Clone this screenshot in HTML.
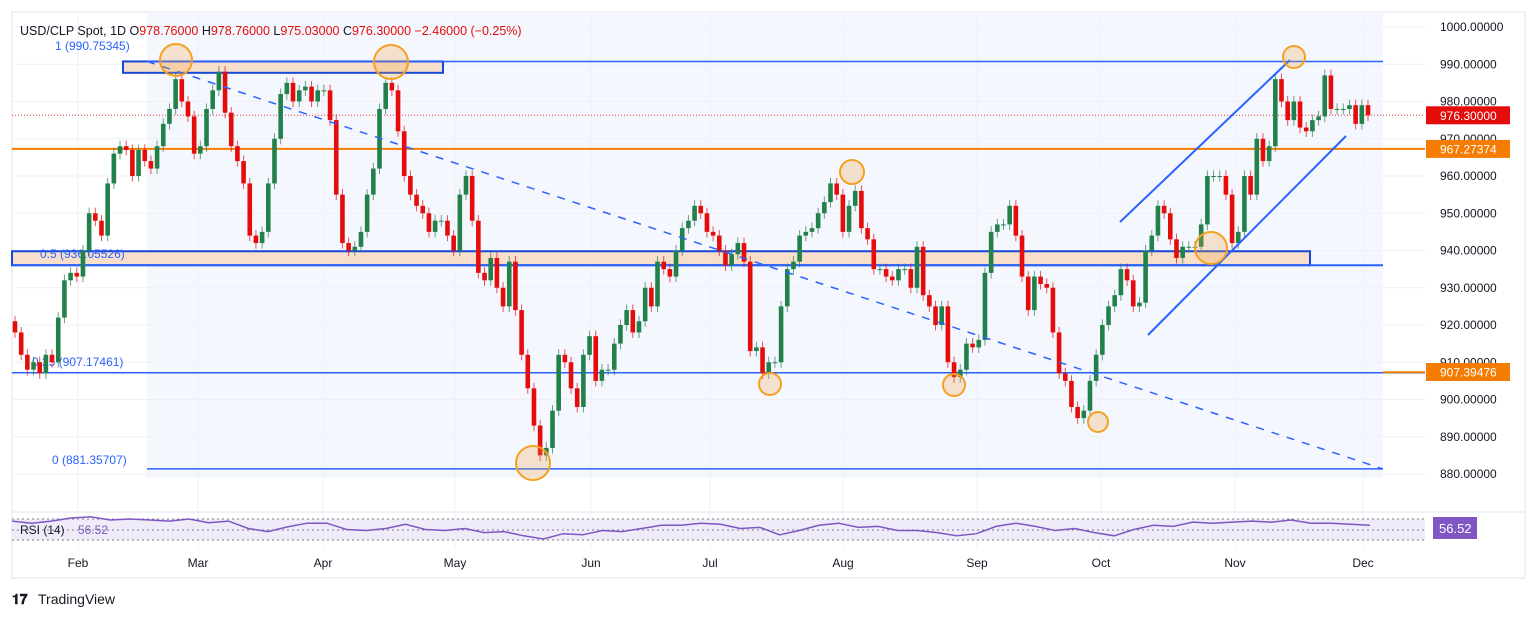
<!DOCTYPE html>
<html><head><meta charset="utf-8"><style>
body{margin:0;background:#fff;width:1536px;height:619px;overflow:hidden;font-family:"Liberation Sans",sans-serif}
svg text{font-family:"Liberation Sans",sans-serif}
</style></head><body>
<svg id="c" width="1536" height="619" xmlns="http://www.w3.org/2000/svg"></svg>
<script>
const closes=[918,912,908,910,907,912,910,922,932,934,933,940,950,948,944,958,966,968,967,960,967,964,962,968,974,978,986,980,976,966,968,978,983,988,977,968,964,958,944,942,945,958,970,982,985,980,983,984,980,983,983,975,955,942,940,941,945,955,962,978,985,983,972,960,955,952,950,945,948,948,944,940,955,960,948,934,932,938,930,925,937,924,912,903,893,885,887,897,
912,910,903,898,912,917,905,908,908,915,920,924,918,921,930,925,937,935,933,940,946,948,952,950,945,944,940,936,939,942,937,913,914,907,910,910,925,935,937,944,945,946,950,953,958,955,945,952,956,946,943,935,935,933,932,935,935,930,
941,928,925,920,925,910,906,908,915,914,916,934,945,947,947,952,944,933,924,933,931,930,918,907,905,898,895,897,905,912,920,925,928,935,932,925,926,940,944,952,950,943,938,941,941,941,947,960,960,960,955,942,945,960,955,970,964,968,986,980,975,980,973,972,975,976,987,978,978,978,979,974,979,976.3];
const priceTicks=[1000,990,980,970,960,950,940,930,920,910,900,890,880];
const months=["Feb","Mar","Apr","May","Jun","Jul","Aug","Sep","Oct","Nov","Dec"];
const monthX=[78,198,323,455,591,710,843,977,1101,1235,1363];
const rsi=[66,62,66,72,74,68,70,68,66,70,63,66,52,46,55,62,62,50,48,52,60,50,48,52,44,46,38,32,42,40,48,46,52,58,58,62,60,52,54,40,48,58,62,54,56,48,48,44,38,42,56,62,56,48,52,44,38,50,58,56,64,62,64,66,64,68,62,62,60,58];
const firstOpen=921;
const S='http://www.w3.org/2000/svg';
const svg=document.getElementById('c');
function y(p){return 27+(1000-p)*3.725;}
function xi(i){return 15+i*(1368-15)/(closes.length-1);}
function ry(v){return 519+(70-v)*21/40;}
function add(tag,attrs,parent,text){const e=document.createElementNS(S,tag);for(const k in attrs)e.setAttribute(k,attrs[k]);if(text!==undefined)e.textContent=text;(parent||svg).appendChild(e);return e;}
// frame
let e;
e=add('rect',{x:12,y:12,width:1513,height:566,fill:'#fff',stroke:'#e0e3eb'});

e=add('rect',{x:147,y:12,width:1236,height:466,fill:'#f5f7fe'});

// grid
priceTicks.forEach(p=>{e=add('line',{x1:12,x2:1425,y1:y(p),y2:y(p),stroke:'#eef0f4'});});
monthX.forEach(x=>{e=add('line',{x1:x,x2:x,y1:12,y2:548,stroke:'#eef0f4'});});
// fib boxes and lines
e=add('rect',{x:12,y:y(939.8),width:1298,height:y(936.05)-y(939.8),fill:'#f8dfcb',stroke:'#1848d8','stroke-width':2});

e=add('line',{x1:12,x2:1383,y1:y(936.05),y2:y(936.05),stroke:'#2962ff','stroke-width':2});

e=add('rect',{x:123,y:y(990.75),width:320,height:y(987.7)-y(990.75),fill:'#f8dfcb',stroke:'#1848d8','stroke-width':2});

e=add('line',{x1:147,x2:1383,y1:y(990.75),y2:y(990.75),stroke:'#2962ff','stroke-width':1.5});

e=add('line',{x1:12,x2:1425,y1:y(907.17),y2:y(907.17),stroke:'#2962ff','stroke-width':1.5});

e=add('line',{x1:1383,x2:1425,y1:y(907.3),y2:y(907.3),stroke:'#f57c00','stroke-width':2});

e=add('line',{x1:147,x2:1383,y1:y(881.36),y2:y(881.36),stroke:'#2962ff','stroke-width':1.5});

e=add('line',{x1:12,x2:1425,y1:y(967.27),y2:y(967.27),stroke:'#f57c00','stroke-width':2});

e=add('line',{x1:12,x2:1425,y1:y(976.3),y2:y(976.3),stroke:'#e53935','stroke-width':1,'stroke-dasharray':'1 2'});

// fib labels
[["1 (990.75345)",55,50],["0.5 (936.05526)",40,258],["0.25 (907.17461)",32,366],["0 (881.35707)",52,464]].forEach(t=>{e=add('text',{x:t[1],y:t[2],fill:'#2962ff','font-size':12},null,t[0]);});
// candles
let prev=firstOpen;
closes.forEach((c,i)=>{const o=prev;prev=c;const x=xi(i);const up=c>=o;const col=up?'#22804a':'#e50c0c';
const hi=Math.max(o,c)+1.5,lo=Math.min(o,c)-1.5;
const g=add('g',{});
add('line',{x1:x,x2:x,y1:y(hi),y2:y(lo),stroke:col,'stroke-width':1,opacity:0.7},g);
const t=y(Math.max(o,c)),b=y(Math.min(o,c));
add('rect',{x:x-2.3,y:t,width:4.6,height:Math.max(1,b-t),fill:col},g);});
// trend lines
e=add('line',{x1:147,y1:y(990.75),x2:1383,y2:y(881.36),stroke:'#2962ff','stroke-width':1.5,'stroke-dasharray':'8 8'});

e=add('line',{x1:1120,y1:222,x2:1290,y2:60,stroke:'#2962ff','stroke-width':2});

e=add('line',{x1:1148,y1:335,x2:1346,y2:136,stroke:'#2962ff','stroke-width':2});

// circles
[[176,60,16],[391,62,17],[533,463,17],[852,172,12],[770,384,11],[954,385,11],[1098,422,10],[1211,248,16],[1294,57,11]].forEach(c=>{e=add('circle',{cx:c[0],cy:c[1],r:c[2],fill:'rgba(245,160,60,0.25)',stroke:'#f5a020','stroke-width':2});});
// price axis
e=add('rect',{x:1426,y:13,width:98,height:564,fill:'#fff'});

priceTicks.forEach(p=>{e=add('text',{x:1440,y:y(p)+4,fill:'#131722','font-size':12},null,p.toFixed(5));});
[[976.3,'#e50c0c','976.30000'],[967.27,'#f57c00','967.27374'],[907.39,'#f57c00','907.39476']].forEach(l=>{e=add('rect',{x:1426,y:y(l[0])-9,width:84,height:18,fill:l[1]});
e=add('text',{x:1440,y:y(l[0])+4.5,fill:'#fff','font-size':12},null,l[2]);});
// RSI pane
e=add('line',{x1:12,x2:1525,y1:512,y2:512,stroke:'#e0e3eb'});

e=add('rect',{x:12,y:519,width:1413,height:21,fill:'#efebf8'});

[519,530,540].forEach(v=>{e=add('line',{x1:12,x2:1425,y1:v,y2:v,stroke:'#787b86','stroke-dasharray':'2 3'});});
const pts=rsi.map((v,i)=>(12+i*(1370-12)/(rsi.length-1)).toFixed(1)+','+ry(v).toFixed(1)).join(' ');
e=add('polyline',{points:pts,fill:'none',stroke:'#7e57c2','stroke-width':1.5});

e=add('text',{x:20,y:534,fill:'#131722','font-size':12},null,'RSI (14)');

e=add('text',{x:78,y:534,fill:'#7e57c2','font-size':12},null,'56.52');

e=add('rect',{x:1433,y:517,width:44,height:22,fill:'#7e57c2'});

e=add('text',{x:1439,y:533,fill:'#fff','font-size':13},null,'56.52');

// time axis
months.forEach((m,i)=>{e=add('text',{x:monthX[i],y:567,fill:'#131722','font-size':12,'text-anchor':'middle'},null,m);});
// header
e=add('text',{x:20,y:35,fill:'#131722','font-size':12.5},null,'');

add('tspan',{},e,'USD/CLP Spot, 1D  O');
add('tspan',{fill:'#e50c0c'},e,'978.76000');
add('tspan',{},e,' H');add('tspan',{fill:'#e50c0c'},e,'978.76000');
add('tspan',{},e,' L');add('tspan',{fill:'#e50c0c'},e,'975.03000');
add('tspan',{},e,' C');add('tspan',{fill:'#e50c0c'},e,'976.30000  −2.46000 (−0.25%)');
// logo
e=add('text',{x:12,y:604,fill:'#131722','font-size':14,'font-weight':'bold'},null,'𝟏𝟕');

e=add('text',{x:38,y:604,fill:'#131722','font-size':14},null,'TradingView');

</script>
</body></html>
